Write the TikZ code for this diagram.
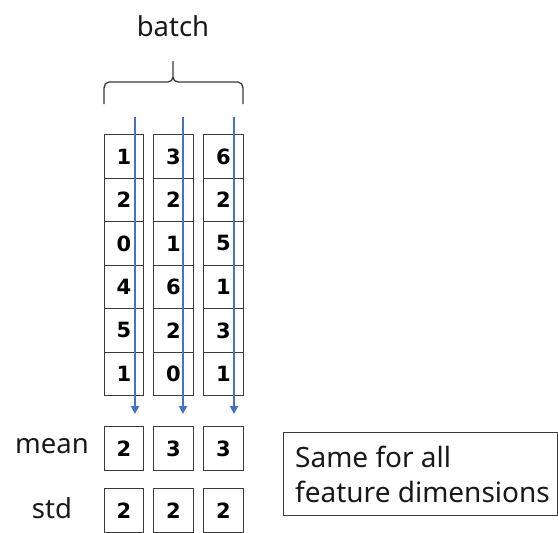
\documentclass[tikz,border=0pt]{standalone}
\usepackage{fontspec}
\setmainfont{Noto Sans}
\newfontfamily\numfont{DejaVu Sans}
\usetikzlibrary{arrows.meta}
\definecolor{boxgray}{HTML}{3A3A3A}
\definecolor{flowblue}{HTML}{4472C4}
\begin{document}
\begin{tikzpicture}[x=1pt,y=-1pt,
  cell/.style={draw=boxgray, line width=1.4pt, minimum width=39.5pt,
    minimum height=43.5pt, inner sep=0pt, anchor=north west,
    font=\numfont\bfseries\fontsize{21}{25}\selectfont},
  statcell/.style={cell, minimum height=44pt},
  label/.style={font=\fontsize{27.5}{31}\selectfont, text=black!90},
  flow/.style={draw=flowblue, line width=2pt,
    -{Triangle[length=8pt,width=8pt]}},
  bracket/.style={draw=boxgray, line width=1.3pt}]
\useasboundingbox (0,0) rectangle (558,533);

% batch label and brace
\node[label] (batch) at (173,26) {batch};
\draw[bracket] (104,104) -- (104,88) to[out=90,in=180] (109,82) -- (168,82)
  to[out=0,in=270] (173,77) -- (173,61);
\draw[bracket] (243,104) -- (243,88) to[out=90,in=0] (238,82) -- (178,82)
  to[out=180,in=270] (173,77);

% data columns
\foreach \col/\x/\vals in {1/103.5/{1,2,0,4,5,1}, 2/153/{3,2,1,6,2,0}, 3/203/{6,2,5,1,3,1}}{
  \foreach \v [count=\r] in \vals {
    \node[cell] (c\col-\r) at (\x,{134+(\r-1)*43.5}) {\v};
  }
}

% per-column statistics
\node[statcell] (m1) at (103.5,426) {2};
\node[statcell] (m2) at (153,426) {3};
\node[statcell] (m3) at (203,426) {3};
\node[statcell] (s1) at (103.5,488) {2};
\node[statcell] (s2) at (153,488) {2};
\node[statcell] (s3) at (203,488) {2};

\node[label] (mean) at (52,446) {mean};
\node[label] (std) at (52,508) {std};

% reduction arrows down each column
\coordinate (a1s) at (135,117);
\coordinate (a1e) at (135,414);
\coordinate (a2s) at (183,117);
\coordinate (a2e) at (183,414);
\coordinate (a3s) at (234,117);
\coordinate (a3e) at (234,414);
\draw[flow] (a1s) -- (a1e);
\draw[flow] (a2s) -- (a2e);
\draw[flow] (a3s) -- (a3e);

% note
\node[draw=boxgray, line width=1.3pt, anchor=north west, minimum width=274pt,
  minimum height=83pt, inner sep=0pt] (notebox) at (283,432) {};
\node[anchor=west, align=left, inner sep=0pt,
  font=\fontsize{28}{35}\selectfont, text=black!90] (note)
  at ([xshift=12pt]notebox.west) {Same for all\\feature dimensions};
\end{tikzpicture}
\end{document}
